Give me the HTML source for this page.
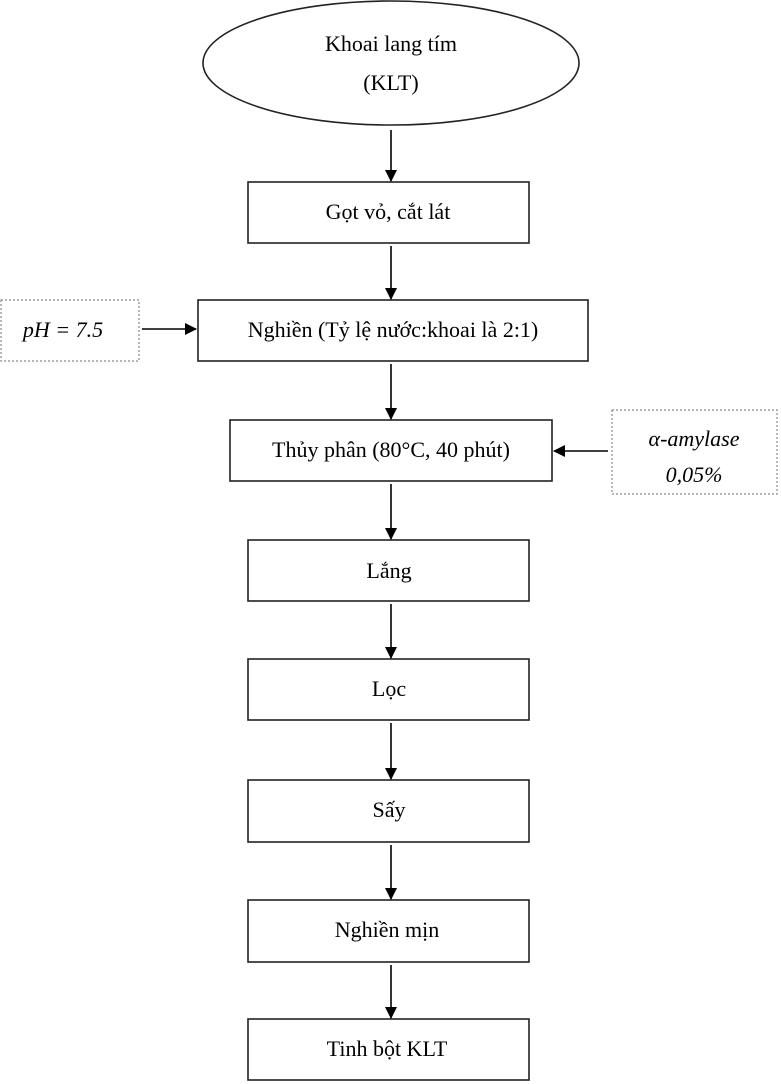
<!DOCTYPE html>
<html><head><meta charset="utf-8"><style>
html,body{margin:0;padding:0;background:#fff;width:781px;height:1084px;overflow:hidden}
svg{display:block}
text{font-family:"Liberation Serif",serif;font-size:22px;fill:#000}
</style></head><body>
<svg width="781" height="1084" viewBox="0 0 781 1084">
<defs><marker id="a" markerWidth="12" markerHeight="12" refX="11" refY="6" orient="auto" markerUnits="userSpaceOnUse"><path d="M0,0 L12,6 L0,12 z" fill="#000"/></marker></defs>
<g stroke="#222" stroke-width="1.6" fill="none">
<ellipse cx="391" cy="63" rx="188" ry="62"/>
<rect x="248" y="182" width="281" height="61"/>
<rect x="198" y="300" width="390" height="61"/>
<rect x="230" y="420" width="322" height="61"/>
<rect x="248" y="540" width="281" height="61"/>
<rect x="248" y="659" width="281" height="61"/>
<rect x="248" y="780" width="281" height="62"/>
<rect x="248" y="900" width="281" height="62"/>
<rect x="248" y="1019" width="281" height="61"/>
</g>
<g stroke="#888" stroke-width="1.2" stroke-dasharray="2,2" fill="none">
<rect x="1" y="300" width="138" height="61"/>
<rect x="612" y="410" width="165" height="84"/>
</g>
<g stroke="#000" stroke-width="1.6" marker-end="url(#a)">
<line x1="391" y1="130" x2="391" y2="181"/>
<line x1="391" y1="246" x2="391" y2="299"/>
<line x1="142" y1="329" x2="196" y2="329"/>
<line x1="391" y1="364" x2="391" y2="419"/>
<line x1="608" y1="451" x2="554" y2="451"/>
<line x1="391" y1="484" x2="391" y2="539"/>
<line x1="391" y1="604" x2="391" y2="658"/>
<line x1="391" y1="723" x2="391" y2="779"/>
<line x1="391" y1="845" x2="391" y2="899"/>
<line x1="391" y1="965" x2="391" y2="1018"/>
</g>
<g text-anchor="middle">
<text x="391" y="51">Khoai lang tím</text>
<text x="391" y="90">(KLT)</text>
<text x="388" y="219">Gọt vỏ, cắt lát</text>
<text x="393" y="337">Nghiền (Tỷ lệ nước:khoai là 2:1)</text>
<text x="391" y="457">Thủy phân (80°C, 40 phút)</text>
<text x="389" y="578">Lắng</text>
<text x="389" y="696">Lọc</text>
<text x="389" y="817">Sấy</text>
<text x="387" y="937">Nghiền mịn</text>
<text x="387" y="1056">Tinh bột KLT</text>
<text x="63" y="337" font-style="italic" font-size="23">pH = 7.5</text>
<text x="694" y="446" font-style="italic">α-amylase</text>
<text x="694" y="482" font-style="italic">0,05%</text>
</g>
</svg>
</body></html>
